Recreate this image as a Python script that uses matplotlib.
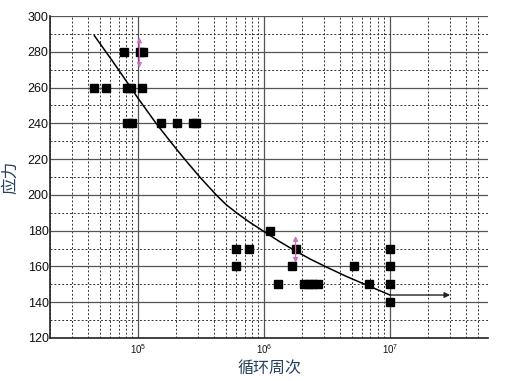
import numpy as np
import matplotlib
matplotlib.use("Agg")
import matplotlib.pyplot as plt
from matplotlib.ticker import LogLocator, MultipleLocator, NullFormatter

plt.rcParams['font.family'] = ['Liberation Sans', 'Noto Sans CJK SC', 'DejaVu Sans']

# test points (cycles, stress)
cycles = [7.7e4, 1.03e5, 1.1e5,
          4.5e4, 5.6e4, 8.2e4, 8.8e4, 1.07e5,
          8.2e4, 9.0e4, 1.52e5, 2.04e5, 2.75e5, 2.86e5,
          1.11e6,
          6.0e5, 7.55e5, 1.78e6, 1e7,
          6.0e5, 1.67e6, 5.18e6, 1e7,
          1.29e6, 2.09e6, 2.29e6, 2.47e6, 2.7e6, 6.75e6, 1e7,
          1e7]
stress = [280, 280, 280,
          260, 260, 260, 260, 260,
          240, 240, 240, 240, 240, 240,
          180,
          170, 170, 170, 170,
          160, 160, 160, 160,
          150, 150, 150, 150, 150, 150, 150,
          140]

# fitted S-N curve
curve_n = [4.5e4, 6.31e4, 8.75e4, 1.0e5, 1.39e5, 1.82e5, 2.34e5, 3.09e5,
           4.17e5, 5.01e5, 6.17e5, 7.76e5, 1.0e6, 1.32e6, 1.74e6,
           2.34e6, 3.16e6, 4.47e6, 6.31e6, 7.94e6, 1.0e7]
curve_s = [289, 274.5, 260, 254, 240, 229.5, 220, 210,
           200, 194.5, 189.5, 184.5, 179.5, 174, 169,
           164, 159.5, 154.5, 150, 147, 144]

# runout arrow and scatter bars
runout_n = [1.0e7, 3.0e7]
runout_s = 144
scatter_n = [1.025e5, 1.78e6]
scatter_lo = [271, 162]
scatter_hi = [288, 177]

fig = plt.figure(figsize=(5.07, 3.81), dpi=100)
ax = fig.add_axes([0.0986, 0.113, 0.864, 0.845])

ax.set_xscale('log')
ax.set_xlim(2e4, 6e7)
ax.set_ylim(120, 300)

ax.yaxis.set_major_locator(MultipleLocator(20))
ax.yaxis.set_minor_locator(MultipleLocator(10))
ax.xaxis.set_major_locator(LogLocator(base=10))
ax.xaxis.set_minor_locator(LogLocator(base=10, subs=np.arange(2, 10)))
ax.xaxis.set_minor_formatter(NullFormatter())

ax.grid(which='major', color='#555555', lw=0.9, ls='-')
ax.grid(which='minor', color='#333333', lw=0.7, ls=(0, (2, 2)))
ax.set_axisbelow(True)

for s in ['top', 'right']:
    ax.spines[s].set_visible(False)
for s in ['left', 'bottom']:
    ax.spines[s].set_color('#222222')
    ax.spines[s].set_linewidth(1.2)

ax.tick_params(which='both', length=0)
ax.tick_params(axis='y', labelsize=9, pad=1, colors='#111111')
ax.tick_params(axis='x', labelsize=7, pad=3, colors='#111111')

ax.plot(curve_n, curve_s, color='black', lw=1.1, zorder=3)
ax.plot(cycles, stress, 's', color='black', ms=5.5, zorder=4)

ax.annotate('', xy=(runout_n[1], runout_s), xytext=(runout_n[0], runout_s),
            arrowprops=dict(arrowstyle='-|>', color='#222222', lw=1.0,
                            mutation_scale=8, shrinkA=0, shrinkB=0), zorder=3)

for n, lo, hi in zip(scatter_n, scatter_lo, scatter_hi):
    ax.annotate('', xy=(n, hi), xytext=(n, lo),
                arrowprops=dict(arrowstyle='<|-|>', color='#d070c0', lw=0.9,
                                mutation_scale=7, shrinkA=0, shrinkB=0), zorder=5)

ax.set_xlabel('循环周次', fontsize=11.5, color='#25405f',
              family=['Noto Sans CJK SC'], labelpad=3)
ax.set_ylabel('应力', fontsize=12, color='#25405f',
              family=['Noto Sans CJK SC'], labelpad=6)

fig.savefig('out.png', dpi=100)
